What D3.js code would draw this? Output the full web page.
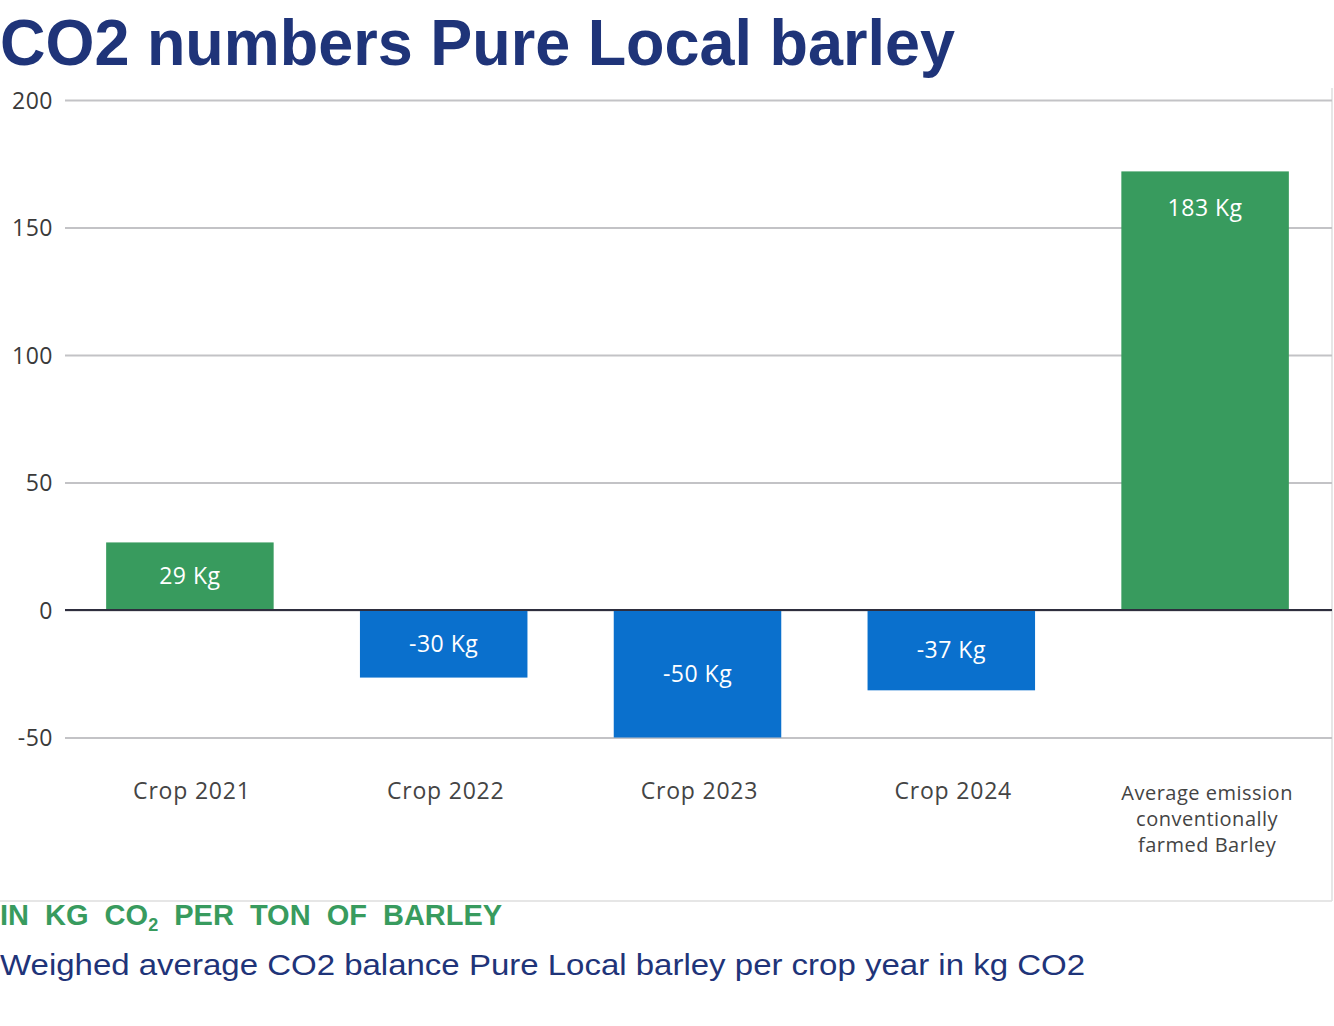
<!DOCTYPE html>
<html lang="en">
<head>
    <meta charset="UTF-8">
    <title>CO2 numbers Pure Local barley</title>
    <script src="https://d3js.org/d3.v7.min.js"></script>
    <style>
        body { margin: 0; background: #fff; }
        svg { display: block; }
        .tick text { font-family: "Open Sans", sans-serif; }
    </style>
</head>
<body>
<svg></svg>
<script>
    // chart data
    let categories = ["Crop 2021", "Crop 2022", "Crop 2023", "Crop 2024", "Average emission conventionally farmed Barley"];
    let barValues = [26.5, -26.5, -50, -31.5, 172];
    let barLabels = ["29 Kg", "-30 Kg", "-50 Kg", "-37 Kg", "183 Kg"];
    let yTicks = [-50, 0, 50, 100, 150, 200];

    const width = 1334, height = 1026;
    const green = "#389b5e", blue = "#0a70cd", navy = "#1f3479";

    const svg = d3.select("svg").attr("width", width).attr("height", height);

    // frame lines
    svg.append("line").attr("x1", 1332).attr("x2", 1332).attr("y1", 88).attr("y2", 901)
        .attr("stroke", "#dedede").attr("stroke-width", 1.5);
    svg.append("line").attr("x1", 0).attr("x2", 1332).attr("y1", 901).attr("y2", 901)
        .attr("stroke", "#dedede").attr("stroke-width", 1.5);

    // title
    svg.append("text").attr("x", 0).attr("y", 65)
        .attr("font-family", "Liberation Sans, Arial, sans-serif").attr("font-weight", "bold")
        .attr("font-size", 64).attr("fill", navy)
        .attr("textLength", 955).attr("lengthAdjust", "spacingAndGlyphs")
        .text("CO2 numbers Pure Local barley");

    let x = d3.scaleBand().domain(categories).range([63, 1332]).paddingInner(0.34).paddingOuter(0.17);
    let y = d3.scaleLinear().domain([-50, 200]).range([737.5, 100]);

    // y axis + grid
    let yAxis = svg.append("g").attr("transform", "translate(65,0)")
        .call(d3.axisLeft(y).tickValues(yTicks).tickFormat(d => String(d))
            .tickSize(-(1332 - 65)).tickPadding(12));
    yAxis.select(".domain").remove();
    yAxis.selectAll(".tick line").attr("stroke", "#c3c3c6").attr("stroke-width", 2);
    yAxis.selectAll(".tick text").attr("font-size", 23).attr("fill", "#3a3a3a")
        .attr("letter-spacing", 0.5).attr("dy", "0.36em");

    // bars
    svg.selectAll(".bar").data(barValues).join("rect")
        .attr("class", "bar")
        .attr("x", (d, i) => x(categories[i]))
        .attr("width", x.bandwidth())
        .attr("y", d => y(Math.max(0, d)))
        .attr("height", d => Math.abs(y(d) - y(0)))
        .attr("fill", d => d >= 0 ? green : blue);

    // zero line
    svg.append("line").attr("x1", 65).attr("x2", 1332).attr("y1", y(0)).attr("y2", y(0))
        .attr("stroke", "#2e2e3e").attr("stroke-width", 2);

    // bar value labels
    svg.selectAll(".bar-label").data(barValues).join("text")
        .attr("class", "bar-label")
        .attr("x", (d, i) => x(categories[i]) + x.bandwidth() / 2)
        .attr("y", d => {
            let top = y(Math.max(0, d)), bottom = y(Math.min(0, d));
            let mid = (top + bottom) / 2;
            return d > 0 ? Math.min(mid, top + 37) : mid;
        })
        .attr("dy", "0.35em")
        .attr("text-anchor", "middle")
        .attr("font-family", "Open Sans, sans-serif")
        .attr("font-size", 23).attr("letter-spacing", 0.5).attr("fill", "#fff")
        .text((d, i) => barLabels[i]);

    // category labels
    const catGroup = svg.append("g");
    categories.forEach(function(c, i) {
        let cx = x(c) + x.bandwidth() / 2;
        if (i < 4) {
            catGroup.append("text").attr("x", cx + 2).attr("y", 799)
                .attr("text-anchor", "middle").attr("font-family", "Open Sans, sans-serif")
                .attr("font-size", 23).attr("letter-spacing", 0.8).attr("fill", "#444").text(c);
        } else {
            let lines = ["Average emission", "conventionally", "farmed Barley"];
            lines.forEach(function(l, j) {
                catGroup.append("text").attr("x", cx + 2).attr("y", 800 + j * 26)
                    .attr("text-anchor", "middle").attr("font-family", "Open Sans, sans-serif")
                    .attr("font-size", 20).attr("letter-spacing", 0.5).attr("fill", "#444").text(l);
            });
        }
    });

    // unit subtitle
    let sub = svg.append("text").attr("x", 0).attr("y", 925)
        .attr("font-family", "Liberation Sans Narrow, Liberation Sans, sans-serif").attr("font-weight", "bold")
        .attr("font-size", 29).attr("fill", green)
        .attr("word-spacing", 8);
    sub.append("tspan").text("IN KG CO");
    sub.append("tspan").attr("font-size", 18).attr("dy", 6).text("2");
    sub.append("tspan").attr("dy", -6).text(" PER TON OF BARLEY");

    // caption
    svg.append("text").attr("x", 0).attr("y", 975)
        .attr("font-family", "Liberation Sans, Arial, sans-serif")
        .attr("font-size", 30).attr("fill", navy)
        .attr("textLength", 1085).attr("lengthAdjust", "spacingAndGlyphs")
        .text("Weighed average CO2 balance Pure Local barley per crop year in kg CO2");
</script>
</body>
</html>
